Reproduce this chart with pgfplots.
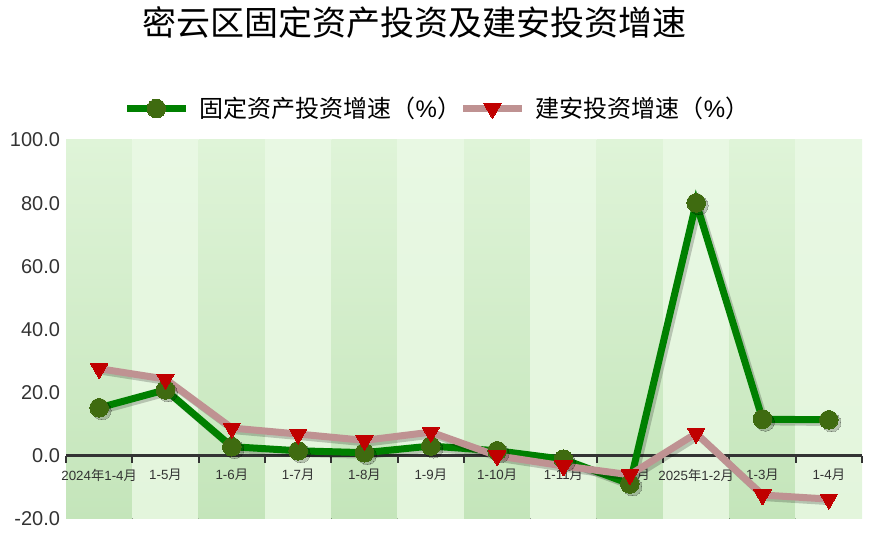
\documentclass[border=0pt]{standalone}
\usepackage{pgfplots}
\pgfplotsset{compat=1.18}
\usepackage{fontspec}
\setmainfont{Liberation Sans}
\newfontfamily\cjk{Noto Sans CJK SC}

\definecolor{txt}{HTML}{333333}
\definecolor{gline}{HTML}{008000}
\definecolor{gmark}{HTML}{3F6B10}
\definecolor{pline}{HTML}{BF9292}
\definecolor{pmark}{HTML}{C00000}
\definecolor{darktop}{HTML}{DFF4D8}
\definecolor{darkbot}{HTML}{C4E5BA}
\definecolor{lighttop}{HTML}{E8F8E3}
\definecolor{lightbot}{HTML}{E3F5DC}

% fixed asset investment growth
\pgfplotstableread{
x y
0 15.2
1 20.9
2 2.9
3 1.6
4 1.0
5 3.1
6 1.6
7 -1.1
8 -8.9
9 80.1
10 11.6
11 11.4
}\fixed
% construction & installation investment growth
\pgfplotstableread{
x y
0 27.6
1 24.3
2 8.8
3 6.9
4 4.9
5 7.5
6 0.0
7 -3.2
8 -6.0
9 7.1
10 -12.4
11 -13.7
}\build

\newcommand{\band}[2]{%
  \fill[top color=#2top, bottom color=#2bot] (axis cs:#1-0.5,-20) rectangle (axis cs:#1+0.5,100);}
\newcommand{\tk}[1]{(axis cs:#1,0) -- ++(0pt,-5.5pt)}

\pgfplotsset{frame/.style={
  at={(49.5pt,21.75pt)}, anchor=south west,
  scale only axis, width=597pt, height=284.25pt,
  xmin=-0.5, xmax=11.5, ymin=-20, ymax=100, clip=false}}

\begin{document}
\begin{tikzpicture}
\node[font=\cjk\fontsize{25.5}{28}\selectfont, text=black] at (311pt,394pt) {密云区固定资产投资及建安投资增速};
% background bands and x axis line
\begin{axis}[frame, hide axis]
\band{0}{dark} \band{1}{light} \band{2}{dark} \band{3}{light}
\band{4}{dark} \band{5}{light} \band{6}{dark} \band{7}{light}
\band{8}{dark} \band{9}{light} \band{10}{dark} \band{11}{light}
\draw[txt, line width=2pt] (axis cs:-0.5,0) -- (axis cs:11.5,0);
\draw[txt, line width=1.5pt] \tk{-0.5} \tk{0.5} \tk{1.5} \tk{2.5} \tk{3.5} \tk{4.5}
  \tk{5.5} \tk{6.5} \tk{7.5} \tk{8.5} \tk{9.5} \tk{10.5} \tk{11.5};
\end{axis}
\begin{axis}[
  frame,
  axis x line=middle, axis y line=left,
  x axis line style={-, draw=none},
  y axis line style={-, draw=none},
  major tick length=0pt,
  xtick={0,...,11},
  xticklabels={2024{\cjk 年}1-4{\cjk 月}, 1-5{\cjk 月}, 1-6{\cjk 月}, 1-7{\cjk 月}, 1-8{\cjk 月}, 1-9{\cjk 月}, 1-10{\cjk 月}, 1-11{\cjk 月}, 1-12{\cjk 月}, 2025{\cjk 年}1-2{\cjk 月}, 1-3{\cjk 月}, 1-4{\cjk 月}},
  xticklabel style={font=\fontsize{10}{12}\selectfont, text=txt, anchor=north, yshift=-8.5pt, inner sep=1pt},
  ytick={-20,0,...,100},
  yticklabel style={font=\fontsize{15}{18}\selectfont, text=txt, xshift=-1pt},
  /pgf/number format/.cd, fixed, fixed zerofill, precision=1, assume math mode=true,
  /pgfplots/.cd,
  legend columns=2,
  legend style={at={(0.467,1.083)}, anchor=center, draw=none, fill=none,
    font=\cjk\fontsize{18}{21}\selectfont, text=black,
    /tikz/every odd column/.append style={column sep=6pt},
    /tikz/every even column/.append style={column sep=-3pt}},
  legend image code/.code={\draw[mark repeat=2,mark phase=2,#1] plot coordinates {(0cm,0cm) (0.77cm,0cm) (1.54cm,0cm)};},
]
% shadows
\addplot[forget plot, black, opacity=0.2, line width=5.25pt, xshift=2pt, yshift=-2pt,
  mark=*, mark size=7pt, mark options={draw=black, fill=black, line width=0pt}] table {\fixed};
\addplot[gline, line width=5.25pt, mark=*, mark size=7pt,
  mark options={draw=gmark, fill=gmark, line width=0pt}] table {\fixed};
\addlegendentry{固定资产投资增速{\cjk（}{\rmfamily\%}{\cjk）}}
\addplot[forget plot, black, opacity=0.2, line width=5.25pt, xshift=2pt, yshift=-2pt] table {\build};
\addplot[pline, line width=5.25pt, mark=triangle*, mark size=7.5pt,
  mark options={draw=pmark, fill=pmark, line width=0pt, rotate=180}] table {\build};
\addlegendentry{建安投资增速{\cjk（}{\rmfamily\%}{\cjk）}}
\end{axis}
\pgfresetboundingbox
\path[use as bounding box] (0,0) rectangle (655.5pt,411pt);
\end{tikzpicture}
\end{document}
